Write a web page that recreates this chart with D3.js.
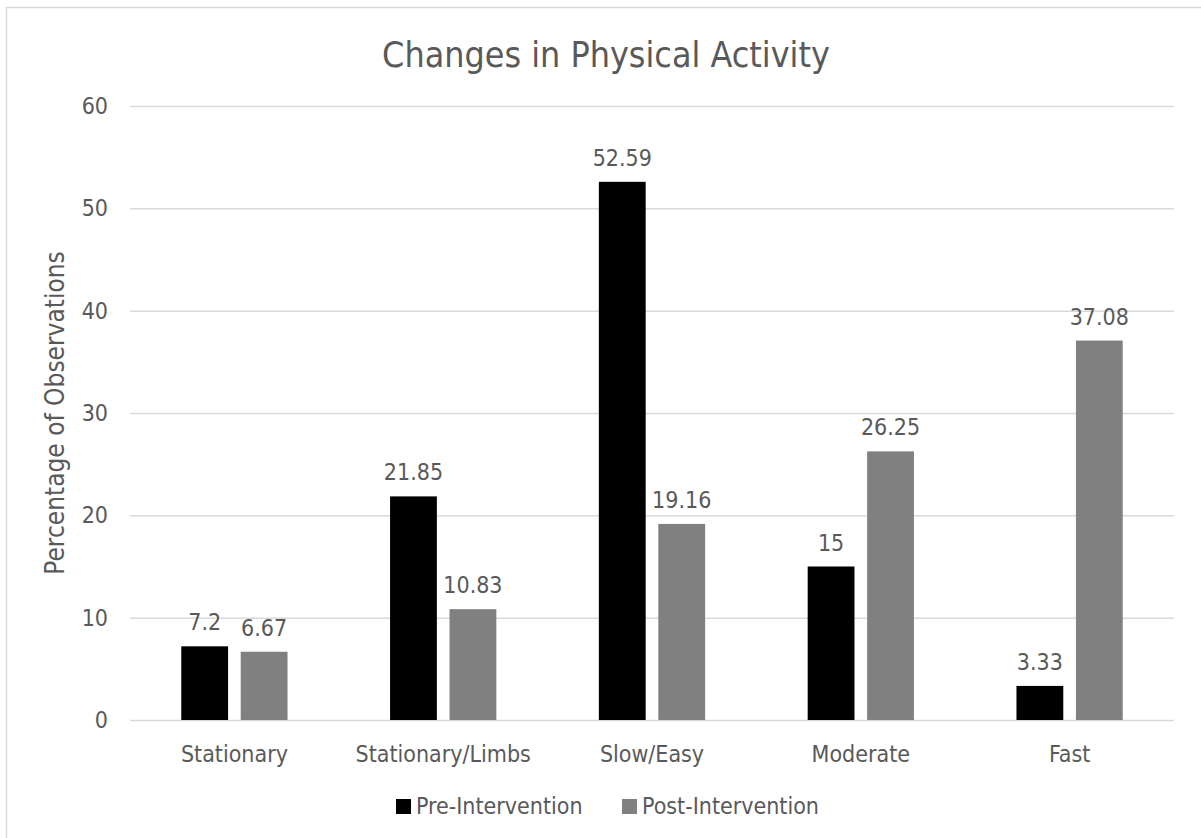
<!DOCTYPE html>
<html>
<head>
<meta charset="utf-8">
<script src="https://cdn.jsdelivr.net/npm/d3@7"></script>
<style>
  html, body { margin: 0; padding: 0; background: #ffffff; }
  svg { display: block; }
  text { font-family: "DejaVu Sans Condensed", "DejaVu Sans", sans-serif; font-stretch: condensed; fill: #595959; }
</style>
</head>
<body>
<svg id="chart" width="1201" height="838"></svg>
<script>
// Activity categories and the share of observations in each, before and after
const categories = ["Stationary", "Stationary/Limbs", "Slow/Easy", "Moderate", "Fast"];
const seriesNames = ["Pre-Intervention", "Post-Intervention"];
const preValues = [7.2, 21.85, 52.59, 15, 3.33];
const postValues = [6.67, 10.83, 19.16, 26.25, 37.08];
const yTicks = [0, 10, 20, 30, 40, 50, 60];
const seriesColors = ["#000000", "#808080"];

const svg = d3.select("#chart");
const W = 1201, H = 838;
const plot = { left: 130, right: 1174, top: 106, bottom: 720 };
const FONT = "'DejaVu Sans Condensed', 'DejaVu Sans', sans-serif";

// Chart frame
svg.append("rect")
  .attr("x", 6.5).attr("y", 7.5)
  .attr("width", W + 20).attr("height", H + 20)
  .attr("fill", "#ffffff")
  .attr("stroke", "#d9d9d9").attr("stroke-width", 1.5);

const x = d3.scaleBand().domain(categories).range([plot.left, plot.right]).paddingInner(0).paddingOuter(0);
const y = d3.scaleLinear().domain([0, 60]).range([plot.bottom, plot.top]);

// Bar geometry: gap width 219%, overlap -27%
const barW = x.bandwidth() / (2 + 0.27 + 2.19);
const innerGap = 0.27 * barW;
const xs = d3.scaleOrdinal().domain(seriesNames)
  .range([-(barW + innerGap / 2), innerGap / 2]);

// Gridlines and y tick labels
const yAxis = d3.axisLeft(y).tickValues(yTicks).tickSize(-(plot.right - plot.left)).tickPadding(22);
const gy = svg.append("g").attr("transform", `translate(${plot.left},0)`).call(yAxis);
gy.select(".domain").remove();
gy.selectAll(".tick line").attr("stroke", "#d9d9d9").attr("stroke-width", 1.5);
gy.selectAll(".tick text").attr("font-size", 23).attr("fill", "#595959").style("font-family", FONT);

// Category labels
const xAxis = d3.axisBottom(x).tickSize(0).tickPadding(26);
const gx = svg.append("g").attr("transform", `translate(0,${plot.bottom})`).call(xAxis);
gx.select(".domain").remove();
gx.selectAll(".tick text").attr("font-size", 23).attr("fill", "#595959").style("font-family", FONT);

// Bars
const rows = categories.map((c, i) => ({ cat: c, vals: [preValues[i], postValues[i]] }));
const groups = svg.append("g").selectAll("g").data(rows).join("g")
  .attr("transform", d => `translate(${x(d.cat) + x.bandwidth() / 2},0)`);

groups.selectAll("rect").data(d => d.vals.map((v, j) => ({ v, s: seriesNames[j], j }))).join("rect")
  .attr("x", d => xs(d.s))
  .attr("y", d => y(d.v))
  .attr("width", barW)
  .attr("height", d => y(0) - y(d.v))
  .attr("fill", d => seriesColors[d.j]);

// Value labels
groups.selectAll("text.val").data(d => d.vals.map((v, j) => ({ v, s: seriesNames[j], j }))).join("text")
  .attr("class", "val")
  .attr("x", d => xs(d.s) + barW / 2)
  .attr("y", d => y(d.v) - 16)
  .attr("text-anchor", "middle")
  .attr("font-size", 23)
  .text(d => d.v);

// Title
svg.append("text")
  .attr("x", 606).attr("y", 67)
  .attr("text-anchor", "middle")
  .attr("font-size", 35.5)
  .text("Changes in Physical Activity");

// Y axis title
svg.append("text")
  .attr("transform", `translate(64,${(plot.top + plot.bottom) / 2}) rotate(-90)`)
  .attr("text-anchor", "middle")
  .attr("font-size", 26)
  .text("Percentage of Observations");

// Legend
const legend = svg.append("g").attr("transform", "translate(396,814)");
const legendX = [0, 226];
seriesNames.forEach((name, j) => {
  const g = legend.append("g").attr("transform", `translate(${legendX[j]},0)`);
  g.append("rect").attr("x", 0).attr("y", -15).attr("width", 15).attr("height", 15).attr("fill", seriesColors[j]);
  g.append("text").attr("x", 20).attr("y", 0).attr("font-size", 23).text(name);
});
</script>
</body>
</html>
